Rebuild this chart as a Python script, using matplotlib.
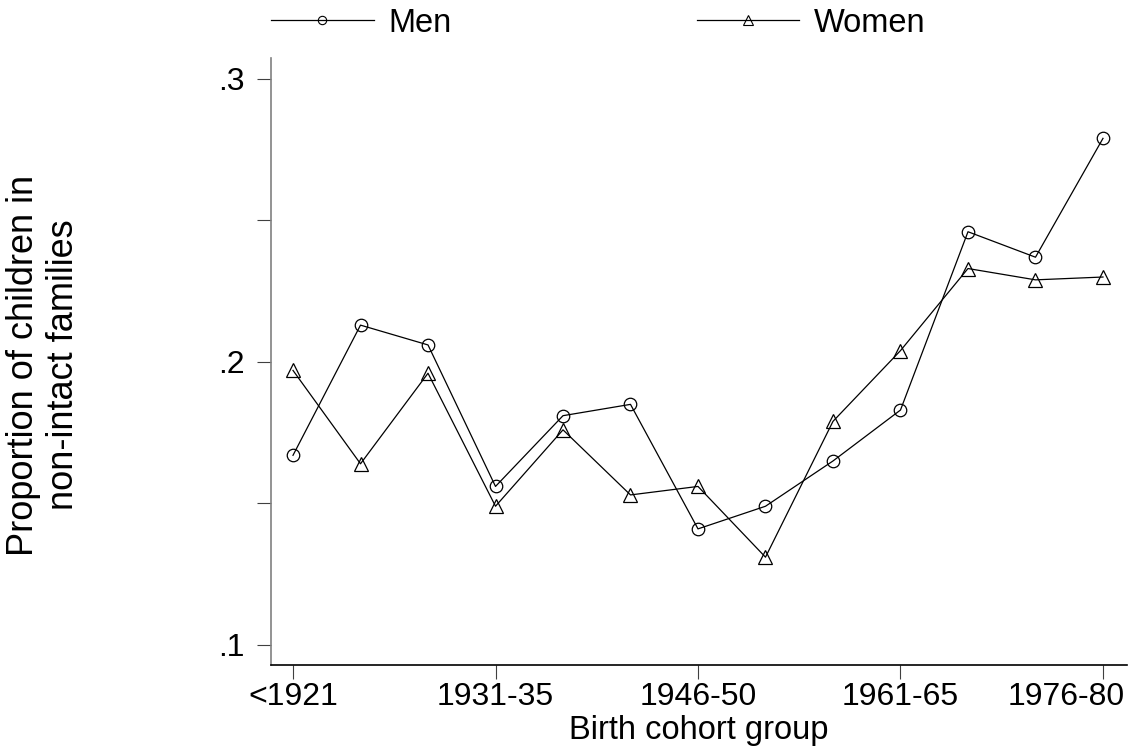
import matplotlib
matplotlib.use('Agg')
import matplotlib.pyplot as plt
from matplotlib.lines import Line2D
from matplotlib.transforms import ScaledTranslation

cohorts = ['<1921', '1921-25', '1926-30', '1931-35', '1936-40', '1941-45',
           '1946-50', '1951-55', '1956-60', '1961-65', '1966-70', '1971-75',
           '1976-80']
men = [0.167, 0.213, 0.206, 0.156, 0.181, 0.185, 0.141, 0.149, 0.165,
       0.183, 0.246, 0.237, 0.279]
women = [0.197, 0.164, 0.196, 0.149, 0.176, 0.153, 0.156, 0.131, 0.179,
         0.204, 0.233, 0.229, 0.230]
ytick_vals = [0.1, 0.15, 0.2, 0.25, 0.3]
ytick_labels = ['.1', '', '.2', '', '.3']

font = ['Liberation Sans', 'DejaVu Sans']


def plot():
    fig = plt.figure(figsize=(11.32, 7.55), dpi=100)
    ax = fig.add_axes([0.2394, 0.1192, 0.7562, 0.8040])
    x = list(range(len(cohorts)))

    ax.plot(x, men, color='black', lw=0.9, marker='o', ms=9,
            mfc='none', mec='black', mew=0.9)
    ax.plot(x, women, color='black', lw=0.9, marker='^', ms=10,
            mfc='none', mec='black', mew=0.9)

    ax.set_xlim(-0.326, 12.356)
    ax.set_ylim(0.0929, 0.3074)
    ax.set_xticks(x[::3])
    ax.set_xticklabels(cohorts[::3], family=font, fontsize=23)
    ax.set_yticks(ytick_vals)
    ax.set_yticklabels(ytick_labels, family=font, fontsize=23)

    for side in ['top', 'right']:
        ax.spines[side].set_visible(False)
    ax.spines['left'].set_color('#808080')
    ax.spines['left'].set_linewidth(1.2)
    ax.spines['bottom'].set_color('black')
    ax.spines['bottom'].set_linewidth(1.2)
    ax.tick_params(axis='x', length=10, width=0.8, pad=2.5, color='#404040')
    ax.tick_params(axis='y', length=10, width=0.8, pad=9, color='#404040')

    # last tick label sits a bit left of its tick, ending at the axis end
    last = ax.get_xticklabels()[-1]
    last.set_horizontalalignment('right')
    last.set_transform(last.get_transform() +
                       ScaledTranslation(22 / 100, 0, fig.dpi_scale_trans))

    ax.set_xlabel('Birth cohort group', family=font, fontsize=23.5,
                  labelpad=2)
    ax.set_ylabel('Proportion of children in\nnon-intact families',
                  family=font, fontsize=26, linespacing=1.2)
    ax.yaxis.set_label_coords(81 / 1132, 1 - 365 / 755,
                              transform=fig.transFigure)

    handles = [
        Line2D([], [], color='black', lw=0.9, marker='o', ms=6,
               mfc='none', mew=0.8),
        Line2D([], [], color='black', lw=0.9, marker='^', ms=6.5,
               mfc='none', mew=0.8),
    ]
    fig.legend(handles, ['Men', 'Women'], ncol=2, loc='center left',
               bbox_to_anchor=(0.2394, 0.969), frameon=False,
               prop={'family': font, 'size': 23.5},
               handlelength=3.15, handletextpad=0.45,
               columnspacing=7.5, borderpad=0, borderaxespad=0)

    fig.savefig('out.png', dpi=100)


if __name__ == '__main__':
    plot()
